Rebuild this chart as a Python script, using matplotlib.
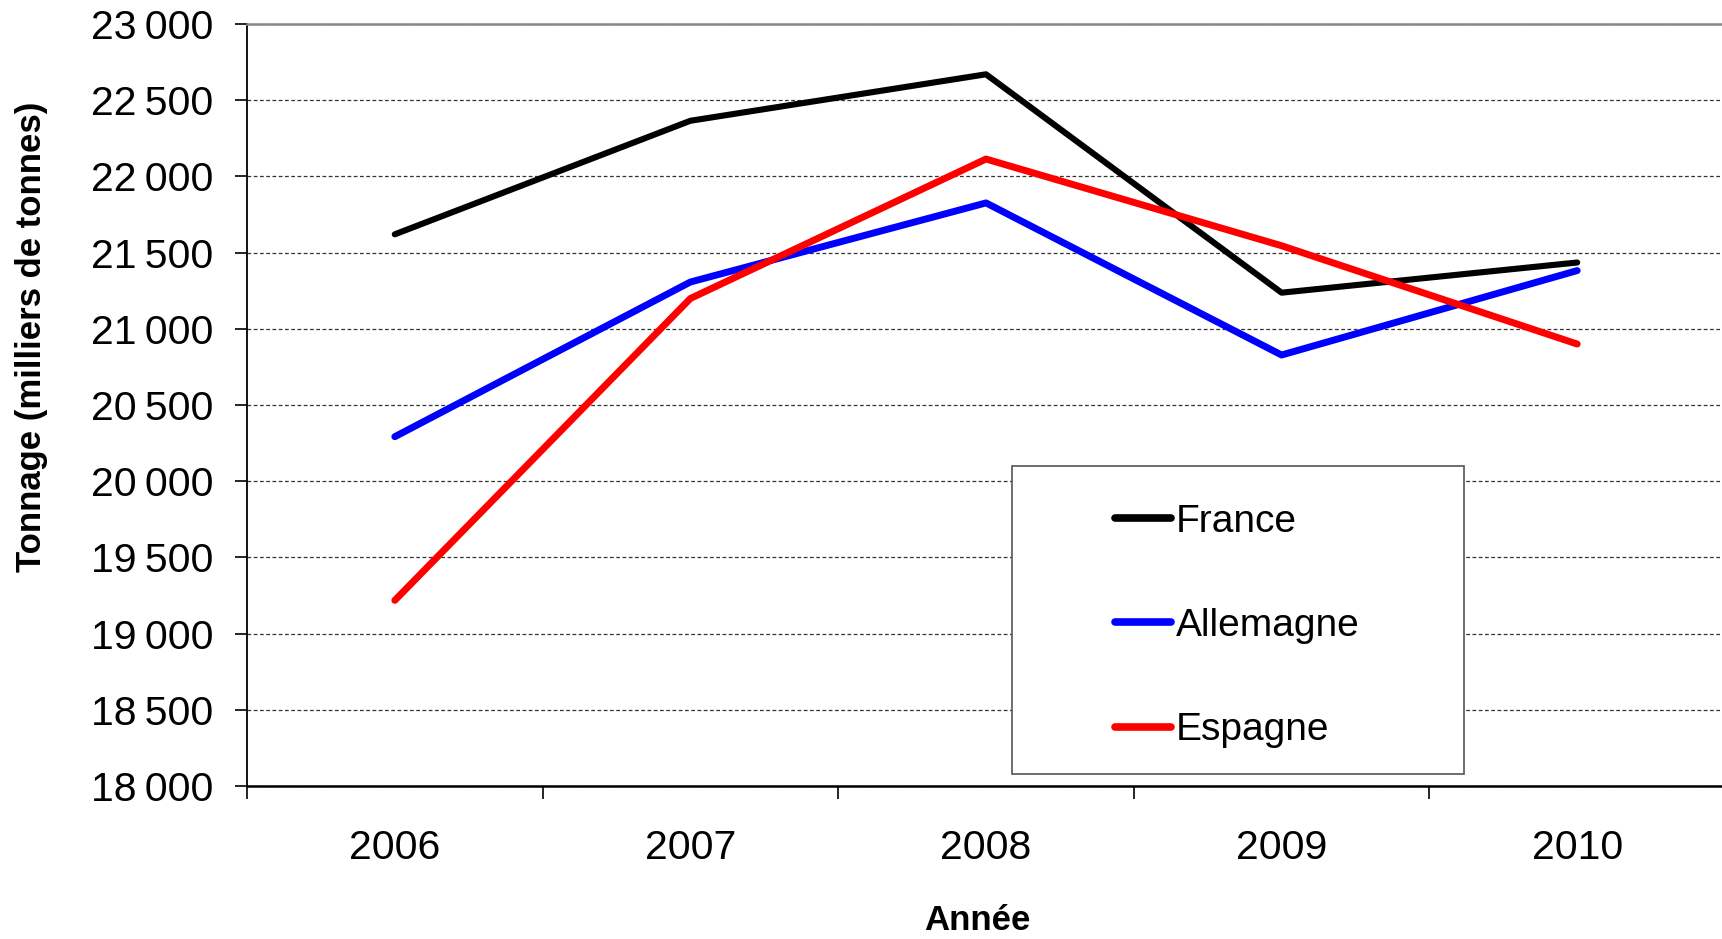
import matplotlib
matplotlib.use('Agg')
import matplotlib.pyplot as plt
from matplotlib.patches import Rectangle
from matplotlib.ticker import FixedLocator, FuncFormatter

plt.rcParams['font.family'] = ['Liberation Sans', 'DejaVu Sans']

# data (milliers de tonnes)
years = ['2006', '2007', '2008', '2009', '2010']
france = [21620, 22365, 22670, 21237, 21435]
allemagne = [20292, 21307, 21826, 20828, 21382]
espagne = [19218, 21199, 22114, 21545, 20900]
y_ticks = [18000, 18500, 19000, 19500, 20000, 20500, 21000, 21500, 22000, 22500, 23000]

W, H = 1722, 939
fig = plt.figure(figsize=(W / 100, H / 100), dpi=100)
ax = fig.add_axes([247 / W, 1 - 786 / H, (1725 - 247) / W, (786 - 24) / H])

x = range(len(years))
ax.plot(x, france, color='black', lw=4.4, label='France', solid_capstyle='round', zorder=3)
ax.plot(x, allemagne, color='#0000ff', lw=5.0, label='Allemagne', solid_capstyle='round', zorder=3)
ax.plot(x, espagne, color='#ff0000', lw=5.0, label='Espagne', solid_capstyle='round', zorder=3)

ax.set_xlim(-0.5, len(years) - 0.5)
ax.set_ylim(y_ticks[0], y_ticks[-1])

# category boundaries as major ticks, labels on minor ticks
ax.xaxis.set_major_locator(FixedLocator([i - 0.5 for i in range(len(years) + 1)]))
ax.xaxis.set_minor_locator(FixedLocator(list(x)))
ax.set_xticklabels([], minor=False)
ax.set_xticklabels(years, minor=True)
ax.tick_params(axis='x', which='major', direction='out', length=9, width=1.2, color='black')
ax.tick_params(axis='x', which='minor', length=0, pad=31, labelsize=29.5)

ax.set_yticks(y_ticks)
ax.yaxis.set_major_formatter(FuncFormatter(lambda v, p: '{:,.0f}'.format(v).replace(',', '\u2009')))
ax.tick_params(axis='y', direction='out', length=9, width=1.2, pad=15, labelsize=29.5)

ax.grid(axis='y', color='#333333', lw=0.9, linestyle=(0, (3, 2)))
ax.set_axisbelow(True)

ax.spines['right'].set_visible(False)
ax.spines['top'].set_color('#888888')
ax.spines['top'].set_linewidth(1.8)
ax.spines['left'].set_linewidth(1.3)
ax.spines['bottom'].set_linewidth(1.8)

ax.set_ylabel('Tonnage (milliers de tonnes)', fontsize=25, fontweight='bold', va='center')
ax.yaxis.set_label_coords(-0.146, 0.59)
ax.set_xlabel('Année', fontsize=25, fontweight='bold', va='center')
ax.xaxis.set_label_coords(0.494, -0.176)

# legend box
box = Rectangle((1012 / W, 1 - 774 / H), (1464 - 1012) / W, (774 - 466) / H,
                transform=fig.transFigure, facecolor='white', edgecolor='#555555',
                lw=1.2, zorder=4, clip_on=False)
ax.add_artist(box)
leg = ax.legend(loc='center left', bbox_to_anchor=(1115 / W, 1 - 626 / H),
                bbox_transform=fig.transFigure, frameon=False, borderpad=0,
                borderaxespad=0, fontsize=28, handlelength=1.45,
                handletextpad=0.12, labelspacing=1.76)
leg.set_zorder(5)
for line in leg.get_lines():
    line.set_linewidth(5.5)

fig.savefig('out.png', dpi=100)
